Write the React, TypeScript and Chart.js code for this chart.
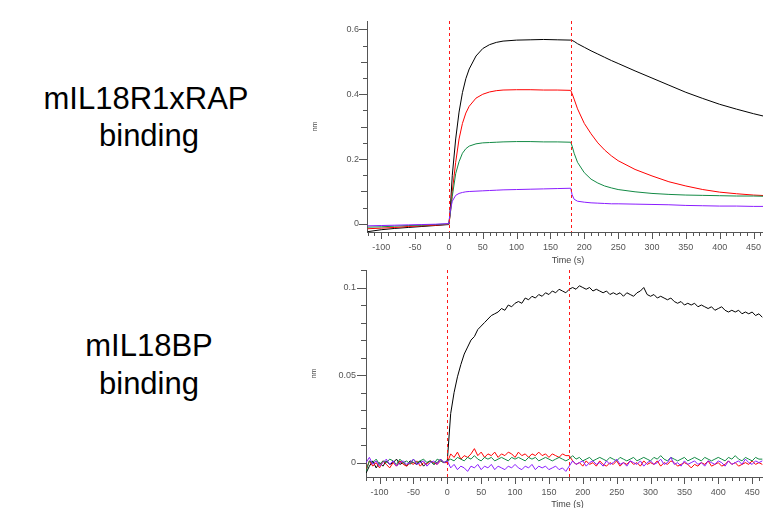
import React, { useEffect, useRef } from 'react';
import { Chart, registerables } from 'chart.js';

Chart.register(...registerables);

const FONT = '"Liberation Sans", Arial, Helvetica, sans-serif';

// ---------- Top panel: mIL18R1xRAP binding ----------
const topTime = [-120, -100, -80, -60, -40, -20, 0, 2, 5, 10, 15, 20, 25, 30, 40, 50, 60, 70, 80, 100, 120, 140, 160, 180, 182, 185, 190, 200, 210, 220, 230, 240, 250, 275, 300, 325, 350, 375, 400, 425, 450, 470];
const topBlack = [-0.024, -0.018, -0.014, -0.011, -0.008, -0.005, -0.002, 0.045, 0.15, 0.262, 0.345, 0.405, 0.448, 0.478, 0.518, 0.541, 0.553, 0.56, 0.564, 0.567, 0.568, 0.569, 0.568, 0.567, 0.566, 0.563, 0.556, 0.545, 0.534, 0.524, 0.514, 0.504, 0.495, 0.472, 0.45, 0.428, 0.406, 0.387, 0.369, 0.354, 0.34, 0.33];
const topRed = [-0.015, -0.013, -0.011, -0.008, -0.006, -0.004, -0.001, 0.03, 0.1, 0.19, 0.262, 0.31, 0.342, 0.363, 0.388, 0.4, 0.407, 0.411, 0.413, 0.414, 0.414, 0.413, 0.413, 0.412, 0.402, 0.385, 0.355, 0.31, 0.278, 0.25, 0.228, 0.21, 0.195, 0.168, 0.148, 0.13, 0.117, 0.106, 0.098, 0.093, 0.089, 0.087];
const topGreen = [-0.01, -0.009, -0.007, -0.005, -0.004, -0.002, 0.0, 0.03, 0.085, 0.155, 0.192, 0.218, 0.232, 0.24, 0.247, 0.25, 0.251, 0.252, 0.253, 0.254, 0.254, 0.253, 0.253, 0.252, 0.24, 0.218, 0.19, 0.158, 0.138, 0.126, 0.117, 0.111, 0.106, 0.099, 0.094, 0.091, 0.089, 0.088, 0.087, 0.086, 0.086, 0.085];
const topPurple = [-0.006, -0.005, -0.004, -0.003, -0.002, -0.001, 0.001, 0.04, 0.07, 0.088, 0.094, 0.097, 0.099, 0.1, 0.101, 0.102, 0.103, 0.104, 0.105, 0.106, 0.107, 0.108, 0.109, 0.11, 0.09, 0.076, 0.07, 0.067, 0.065, 0.064, 0.063, 0.062, 0.062, 0.061, 0.06, 0.059, 0.057, 0.056, 0.055, 0.055, 0.054, 0.054];

// ---------- Bottom panel: mIL18BP binding (sampled every 5 s from -120 s) ----------
const bottomTime = Array.from({ length: 118 }, (_, i) => -120 + 5 * i);
const bottomBlack = [
  -0.006, -0.002, 0.001, -0.003, 0.0, -0.002, 0.001, -0.001, 0.0, 0.002, -0.001, 0.0, -0.002, 0.001, 0.0, -0.001, 0.001, -0.002, 0.0, 0.001, -0.001, 0.0, 0.002, 0.0,
  0.001,
  0.028, 0.04, 0.049, 0.056, 0.062, 0.066, 0.07, 0.072, 0.076, 0.078, 0.08, 0.082, 0.084, 0.085, 0.086, 0.088, 0.087, 0.09, 0.089, 0.091, 0.092, 0.091, 0.094, 0.093, 0.095, 0.094, 0.096, 0.095, 0.097, 0.096, 0.098, 0.097, 0.099, 0.098, 0.097,
  0.099,
  0.1, 0.099, 0.101, 0.1, 0.099, 0.1, 0.098, 0.099, 0.098, 0.097, 0.098, 0.096, 0.097, 0.096, 0.097, 0.095, 0.097, 0.096, 0.095, 0.097, 0.098, 0.1, 0.096, 0.095, 0.096, 0.094, 0.095, 0.094, 0.093, 0.094, 0.092, 0.091, 0.092, 0.09, 0.091, 0.09, 0.091, 0.089, 0.09, 0.089, 0.088, 0.089, 0.087, 0.088, 0.089, 0.087, 0.086, 0.087, 0.086, 0.087, 0.085, 0.086, 0.085, 0.086, 0.084, 0.085, 0.083,
];
const bottomRed = [
  -0.004, 0.001, -0.002, 0.0, -0.003, 0.001, -0.001, -0.003, 0.0, -0.002, 0.001, -0.001, -0.002, 0.0, -0.001, 0.001, -0.002, 0.0, -0.001, 0.001, 0.0, -0.001, 0.001, 0.0,
  0.0,
  0.005, 0.003, 0.006, 0.002, 0.004, 0.003, 0.005, 0.008, 0.004, 0.006, 0.003, 0.005, 0.004, 0.006, 0.003, 0.005, 0.004, 0.006, 0.005, 0.003, 0.006, 0.004, 0.005, 0.003, 0.005, 0.004, 0.006, 0.004, 0.005, 0.003, 0.005, 0.004, 0.003, 0.005, 0.004,
  0.004,
  0.001, -0.001, 0.0, -0.002, 0.001, -0.001, 0.0, -0.002, 0.001, -0.001, -0.002, 0.0, -0.001, 0.001, -0.002, 0.0, -0.001, 0.001, -0.001, 0.0, -0.002, 0.001, -0.001, 0.0, -0.001, 0.001, -0.002, 0.0, -0.001, 0.001, 0.0, -0.002, -0.001, 0.0, -0.001, -0.003, -0.001, -0.002, 0.0, -0.001, 0.001, -0.002, -0.001, 0.0, -0.002, -0.001, 0.001, -0.001, 0.0, -0.002, -0.001, 0.0, -0.001, 0.001, -0.001, 0.0, -0.001,
];
const bottomGreen = [
  -0.005, 0.001, 0.0, 0.002, -0.001, 0.001, 0.0, 0.002, 0.001, -0.001, 0.002, 0.0, 0.001, -0.001, 0.002, 0.0, 0.001, 0.002, 0.0, 0.001, -0.001, 0.002, 0.001, 0.0,
  0.001,
  0.002, 0.001, 0.003, 0.002, 0.001, 0.003, 0.002, 0.004, 0.002, 0.001, 0.003, 0.002, 0.003, 0.001, 0.002, 0.003, 0.002, 0.001, 0.003, 0.002, 0.003, 0.002, 0.001, 0.003, 0.002, 0.003, 0.001, 0.002, 0.003, 0.002, 0.001, 0.002, 0.003, 0.002, 0.001,
  0.002,
  0.004, 0.002, 0.003, 0.001, 0.002, 0.003, 0.001, 0.002, 0.003, 0.002, 0.001, 0.003, 0.002, 0.001, 0.003, 0.002, 0.001, 0.002, 0.003, 0.001, 0.002, 0.003, 0.002, 0.001, 0.003, 0.002, 0.004, 0.002, 0.001, 0.003, 0.002, 0.001, 0.002, 0.003, 0.001, 0.002, 0.003, 0.002, 0.001, 0.003, 0.002, 0.001, 0.002, 0.003, 0.002, 0.001, 0.003, 0.002, 0.004, 0.002, 0.001, 0.003, 0.002, 0.001, 0.003, 0.002, 0.002,
];
const bottomPurple = [
  0.0, 0.003, -0.001, 0.001, -0.002, 0.0, 0.002, -0.001, 0.001, -0.002, 0.0, 0.001, -0.001, 0.0, 0.002, -0.001, 0.0, 0.001, -0.002, 0.0, 0.001, -0.001, 0.002, 0.0,
  0.001,
  -0.003, -0.001, -0.004, -0.002, -0.003, -0.005, -0.002, -0.003, -0.001, -0.004, -0.002, -0.003, -0.001, -0.004, -0.002, -0.003, -0.004, -0.002, -0.003, -0.001, -0.003, -0.004, -0.002, -0.003, -0.001, -0.004, -0.002, -0.003, -0.002, -0.004, -0.003, -0.002, -0.004, -0.003, -0.005,
  -0.002,
  0.001, -0.001, 0.0, 0.001, -0.002, 0.0, 0.001, -0.001, 0.0, -0.002, 0.001, -0.001, 0.0, 0.002, -0.001, 0.0, -0.002, 0.001, 0.0, -0.001, 0.001, -0.002, 0.0, 0.001, -0.001, 0.0, 0.002, -0.001, 0.0, 0.003, -0.001, 0.0, -0.002, 0.001, -0.001, 0.0, 0.001, -0.001, 0.0, -0.002, 0.001, 0.0, -0.001, 0.001, 0.0, -0.002, 0.001, -0.001, 0.0, 0.001, -0.001, 0.002, 0.0, -0.001, 0.001, 0.0, 0.001,
];

const markerTimes = [0, 180];
const COLORS = { black: '#000000', red: '#ff0000', green: '#138a45', purple: '#8a1cff' };

const isMult = (v: number, m: number) => Math.abs(v / m - Math.round(v / m)) < 1e-6;

type PanelCfg = {
  left: number; top: number; width: number; height: number;
  padTop: number; axisW: number; axisH: number;
  xMin: number; xMax: number; yMin: number; yMax: number;
  yStep: number; yLabelStep: number; yMidStep: number;
  yLabelLen: number; yMidLen: number; yMinorLen: number; yPad: number;
  titleOffset: number;
  time: number[];
  series: { values: number[]; color: string }[];
  yFmt: (v: number) => string;
};

function Panel({ cfg }: { cfg: PanelCfg }) {
  const ref = useRef<HTMLCanvasElement | null>(null);
  useEffect(() => {
    const canvas = ref.current!;
    const overlay = {
      id: 'overlay',
      afterDatasetsDraw(chart: any) {
        const { ctx, chartArea: a, scales } = chart;
        const x = scales.x;
        ctx.save();
        ctx.strokeStyle = '#ff1a1a';
        ctx.lineWidth = 1;
        ctx.setLineDash([3, 3]);
        for (const t of markerTimes) {
          const px = Math.round(x.getPixelForValue(t)) + 0.5;
          ctx.beginPath();
          ctx.moveTo(px, a.top);
          ctx.lineTo(px, a.bottom);
          ctx.stroke();
        }
        ctx.restore();
      },
      afterDraw(chart: any) {
        const { ctx, chartArea: a, scales } = chart;
        const x = scales.x;
        const y = scales.y;
        ctx.save();
        ctx.strokeStyle = '#555';
        ctx.lineWidth = 1;
        ctx.beginPath();
        for (const t of x.ticks) {
          const px = Math.round(x.getPixelForValue(t.value)) + 0.5;
          const len = isMult(t.value, 50) ? 7 : 4;
          ctx.moveTo(px, a.bottom);
          ctx.lineTo(px, a.bottom + len);
        }
        for (const t of y.ticks) {
          const py = Math.round(y.getPixelForValue(t.value)) + 0.5;
          const len = isMult(t.value, cfg.yLabelStep) ? cfg.yLabelLen : isMult(t.value, cfg.yMidStep) ? cfg.yMidLen : cfg.yMinorLen;
          ctx.moveTo(a.left, py);
          ctx.lineTo(a.left - len, py);
        }
        ctx.stroke();
        ctx.fillStyle = '#444';
        ctx.font = `9px ${FONT}`;
        ctx.textAlign = 'center';
        ctx.textBaseline = 'middle';
        ctx.fillText('Time (s)', (a.left + a.right) / 2 + 3, a.bottom + cfg.titleOffset);
        ctx.translate(a.left - 52, (a.top + a.bottom) / 2);
        ctx.rotate(-Math.PI / 2);
        ctx.font = `7px ${FONT}`;
        ctx.fillText('nm', 0, 0);
        ctx.restore();
      },
    };
    const chart = new Chart(canvas, {
      type: 'line',
      data: {
        datasets: cfg.series.map((s) => ({
          data: cfg.time.slice(0, s.values.length).map((t, i) => ({ x: t, y: s.values[i] })),
          borderColor: s.color,
          backgroundColor: s.color,
          borderWidth: 1,
          pointRadius: 0,
          tension: 0,
          fill: false,
        })),
      },
      options: {
        animation: false,
        responsive: false,
        maintainAspectRatio: false,
        devicePixelRatio: 1,
        layout: { padding: { top: cfg.padTop, left: 0, right: 0, bottom: 0 } },
        plugins: { legend: { display: false }, tooltip: { enabled: false } },
        scales: {
          x: {
            type: 'linear',
            min: cfg.xMin,
            max: cfg.xMax,
            grid: { display: false, drawTicks: false },
            border: { display: true, color: '#555', width: 1 },
            ticks: {
              stepSize: 10,
              autoSkip: false,
              maxRotation: 0,
              includeBounds: false,
              padding: 10,
              color: '#555',
              font: { size: 9, family: FONT },
              callback: (v: any) => (isMult(Number(v), 50) ? String(Math.round(Number(v))) : ''),
            },
            afterFit: (s: any) => {
              s.height = cfg.axisH;
              s.paddingLeft = 0;
              s.paddingRight = 0;
            },
          },
          y: {
            type: 'linear',
            min: cfg.yMin,
            max: cfg.yMax,
            grid: { display: false, drawTicks: false },
            border: { display: true, color: '#555', width: 1 },
            ticks: {
              stepSize: cfg.yStep,
              autoSkip: false,
              includeBounds: false,
              padding: cfg.yPad,
              color: '#555',
              font: { size: 9, family: FONT },
              callback: (v: any) => (isMult(Number(v), cfg.yLabelStep) ? cfg.yFmt(Number(v)) : ''),
            },
            afterFit: (s: any) => {
              s.width = cfg.axisW;
              s.paddingTop = 0;
              s.paddingBottom = 0;
            },
          },
        },
      },
      plugins: [overlay],
    } as any);
    return () => chart.destroy();
  }, [cfg]);
  return (
    <canvas
      ref={ref}
      width={cfg.width}
      height={cfg.height}
      style={{ position: 'absolute', left: cfg.left, top: cfg.top, width: cfg.width, height: cfg.height }}
    />
  );
}

const fmt = (v: number) => {
  const r = Math.round(v * 1000) / 1000;
  return r === 0 ? '0' : String(r);
};

const topCfg: PanelCfg = {
  left: 290, top: 10, width: 473, height: 258,
  padTop: 11, axisW: 77, axisH: 36,
  xMin: -121, xMax: 464, yMin: -0.025, yMax: 0.626,
  yStep: 0.05, yLabelStep: 0.2, yMidStep: 0.1,
  yLabelLen: 8, yMidLen: 6, yMinorLen: 4, yPad: 8,
  titleOffset: 29,
  time: topTime,
  series: [
    { values: topPurple, color: COLORS.purple },
    { values: topGreen, color: COLORS.green },
    { values: topRed, color: COLORS.red },
    { values: topBlack, color: COLORS.black },
  ],
  yFmt: fmt,
};

const bottomCfg: PanelCfg = {
  left: 288, top: 258, width: 475, height: 250,
  padTop: 12, axisW: 78, axisH: 31,
  xMin: -120, xMax: 466, yMin: -0.0082, yMax: 0.11,
  yStep: 0.01, yLabelStep: 0.05, yMidStep: 0.05,
  yLabelLen: 9, yMidLen: 9, yMinorLen: 5, yPad: 10,
  titleOffset: 28,
  time: bottomTime,
  series: [
    { values: bottomPurple, color: COLORS.purple },
    { values: bottomGreen, color: COLORS.green },
    { values: bottomRed, color: COLORS.red },
    { values: bottomBlack, color: COLORS.black },
  ],
  yFmt: fmt,
};

const labelStyle = (cx: number, top: number): React.CSSProperties => ({
  position: 'absolute',
  left: cx - 150,
  top,
  width: 300,
  textAlign: 'center',
  fontFamily: FONT,
  fontSize: 31,
  lineHeight: '36px',
  color: '#000',
  whiteSpace: 'nowrap',
});

export default function App() {
  return (
    <div style={{ position: 'absolute', left: 0, top: 0, width: 763, height: 508, background: '#fff', overflow: 'hidden' }}>
      <div style={labelStyle(146, 80.5)}>mIL18R1xRAP</div>
      <div style={labelStyle(149, 118)}>binding</div>
      <div style={labelStyle(149, 328)}>mIL18BP</div>
      <div style={labelStyle(149, 366)}>binding</div>
      <Panel cfg={topCfg} />
      <Panel cfg={bottomCfg} />
    </div>
  );
}
